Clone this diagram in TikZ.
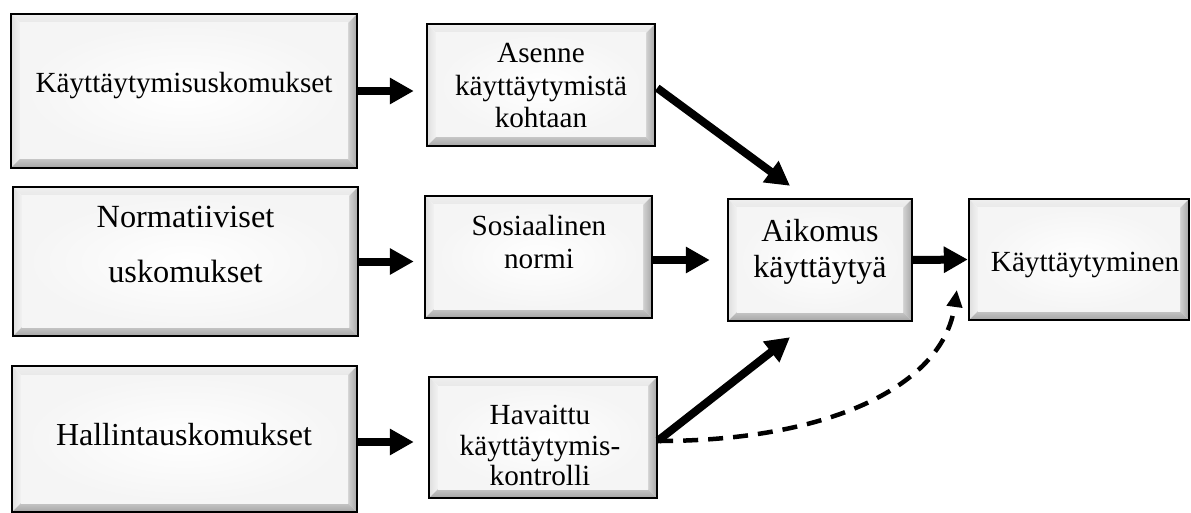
\documentclass[tikz,border=0pt]{standalone}
\usepackage{fontspec}
\setmainfont{Liberation Serif}
\usetikzlibrary{arrows.meta,calc}
\tikzset{
  bevelbox/.style={draw=black, line width=2.4pt, fill=white, inner sep=0pt, rectangle,
    path picture={
      \coordinate (ppnw) at (path picture bounding box.north west);
      \coordinate (ppne) at (path picture bounding box.north east);
      \coordinate (ppse) at (path picture bounding box.south east);
      \coordinate (ppsw) at (path picture bounding box.south west);
      \coordinate (ipnw) at ([xshift=9pt,yshift=-9pt]ppnw);
      \coordinate (ipne) at ([xshift=-9pt,yshift=-9pt]ppne);
      \coordinate (ipse) at ([xshift=-9pt,yshift=9pt]ppse);
      \coordinate (ipsw) at ([xshift=9pt,yshift=9pt]ppsw);
      \shade[top color=gray!12, bottom color=gray!18] (ppnw) -- (ppne) -- (ipne) -- (ipnw) -- cycle;
      \shade[left color=gray!25, right color=gray!10] (ppnw) -- (ipnw) -- (ipsw) -- (ppsw) -- cycle;
      \shade[left color=gray!35, right color=gray!70] (ppne) -- (ppse) -- (ipse) -- (ipne) -- cycle;
      \shade[top color=gray!45, bottom color=gray!70] (ppsw) -- (ppse) -- (ipse) -- (ipsw) -- cycle;
      \shade[inner color=white, outer color=gray!8] (ipnw) rectangle (ipse);
    }},
  lbl/.style={anchor=north, align=center, inner sep=0pt, font=\fontsize{29.2}{33}\selectfont},
  bigarrow/.style={line width=8pt, -{Triangle[length=24pt,width=25pt]}},
  dasharrow/.style={line width=4.5pt, dash pattern=on 15pt off 10pt, -{Triangle[length=17pt,width=15pt]}},
}
\begin{document}
\begin{tikzpicture}[x=1pt,y=-1pt]
\useasboundingbox (0,0) rectangle (1191,513);

% boxes
\node[bevelbox, minimum width=346pt, minimum height=154pt] (b1) at (184,91) {};
\node[bevelbox, minimum width=345pt, minimum height=149pt] (b2) at (185.5,261.5) {};
\node[bevelbox, minimum width=345pt, minimum height=146pt] (b3) at (184.5,439) {};
\node[bevelbox, minimum width=228pt, minimum height=122pt] (asenne) at (541,85) {};
\node[bevelbox, minimum width=227pt, minimum height=122pt] (sos) at (538.5,257) {};
\node[bevelbox, minimum width=228pt, minimum height=121pt] (hav) at (543,437.5) {};
\node[bevelbox, minimum width=184pt, minimum height=122pt] (aik) at (820,260) {};
\node[bevelbox, minimum width=220pt, minimum height=121pt] (kay) at (1079,259.5) {};

% texts
\node[lbl] (t1) at (184,72) {Käyttäytymisuskomukset};
\node[lbl, font=\fontsize{32.3}{55}\selectfont] (t2) at (185.5,206) {Normatiiviset\\uskomukset};
\node[lbl, font=\fontsize{32}{36}\selectfont] (t3) at (184,423) {Hallintauskomukset};
\node[lbl, font=\fontsize{29.2}{32.5}\selectfont] (t4) at (541,43.5) {Asenne\\käyttäytymistä\\kohtaan};
\node[lbl] (t5) at (539,215) {Sosiaalinen\\normi};
\node[lbl, font=\fontsize{29.2}{30.5}\selectfont] (t6) at (540,405) {Havaittu\\käyttäytymis-\\kontrolli};
\node[lbl, font=\fontsize{32}{35.5}\selectfont] (t7) at (820,219.5) {Aikomus\\käyttäytyä};
\node[lbl] (t8) at (1085,252) {Käyttäytyminen};

% connectors
\draw[bigarrow] (b1.east) -- ($(asenne.west |- b1.east)+(-12,0)$);
\draw[bigarrow] (b2.east) -- ($(sos.west |- b2.east)+(-10,0)$);
\draw[bigarrow] ($(b3.east)+(0,3)$) -- ($(hav.west |- b3.east)+(-14,3)$);
\draw[bigarrow] ($(asenne.east)+(1,3)$) -- ($(aik.north)+(-30,-12)$);
\draw[bigarrow] ($(sos.east)+(0,3)$) -- ($(aik.west)+(-17,0)$);
\draw[bigarrow] ($(hav.east)+(0,3)$) -- ($(aik.south)+(-30,15)$);
\draw[bigarrow] (aik.east) -- (kay.west);
\draw[dasharrow] ($(hav.east)+(0,3.5)$) .. controls ($(hav.east)+(173,3.5)$) and ($(kay.west)+(-24,125)$) .. ($(kay.west)+(-11,30.5)$);
\end{tikzpicture}
\end{document}
